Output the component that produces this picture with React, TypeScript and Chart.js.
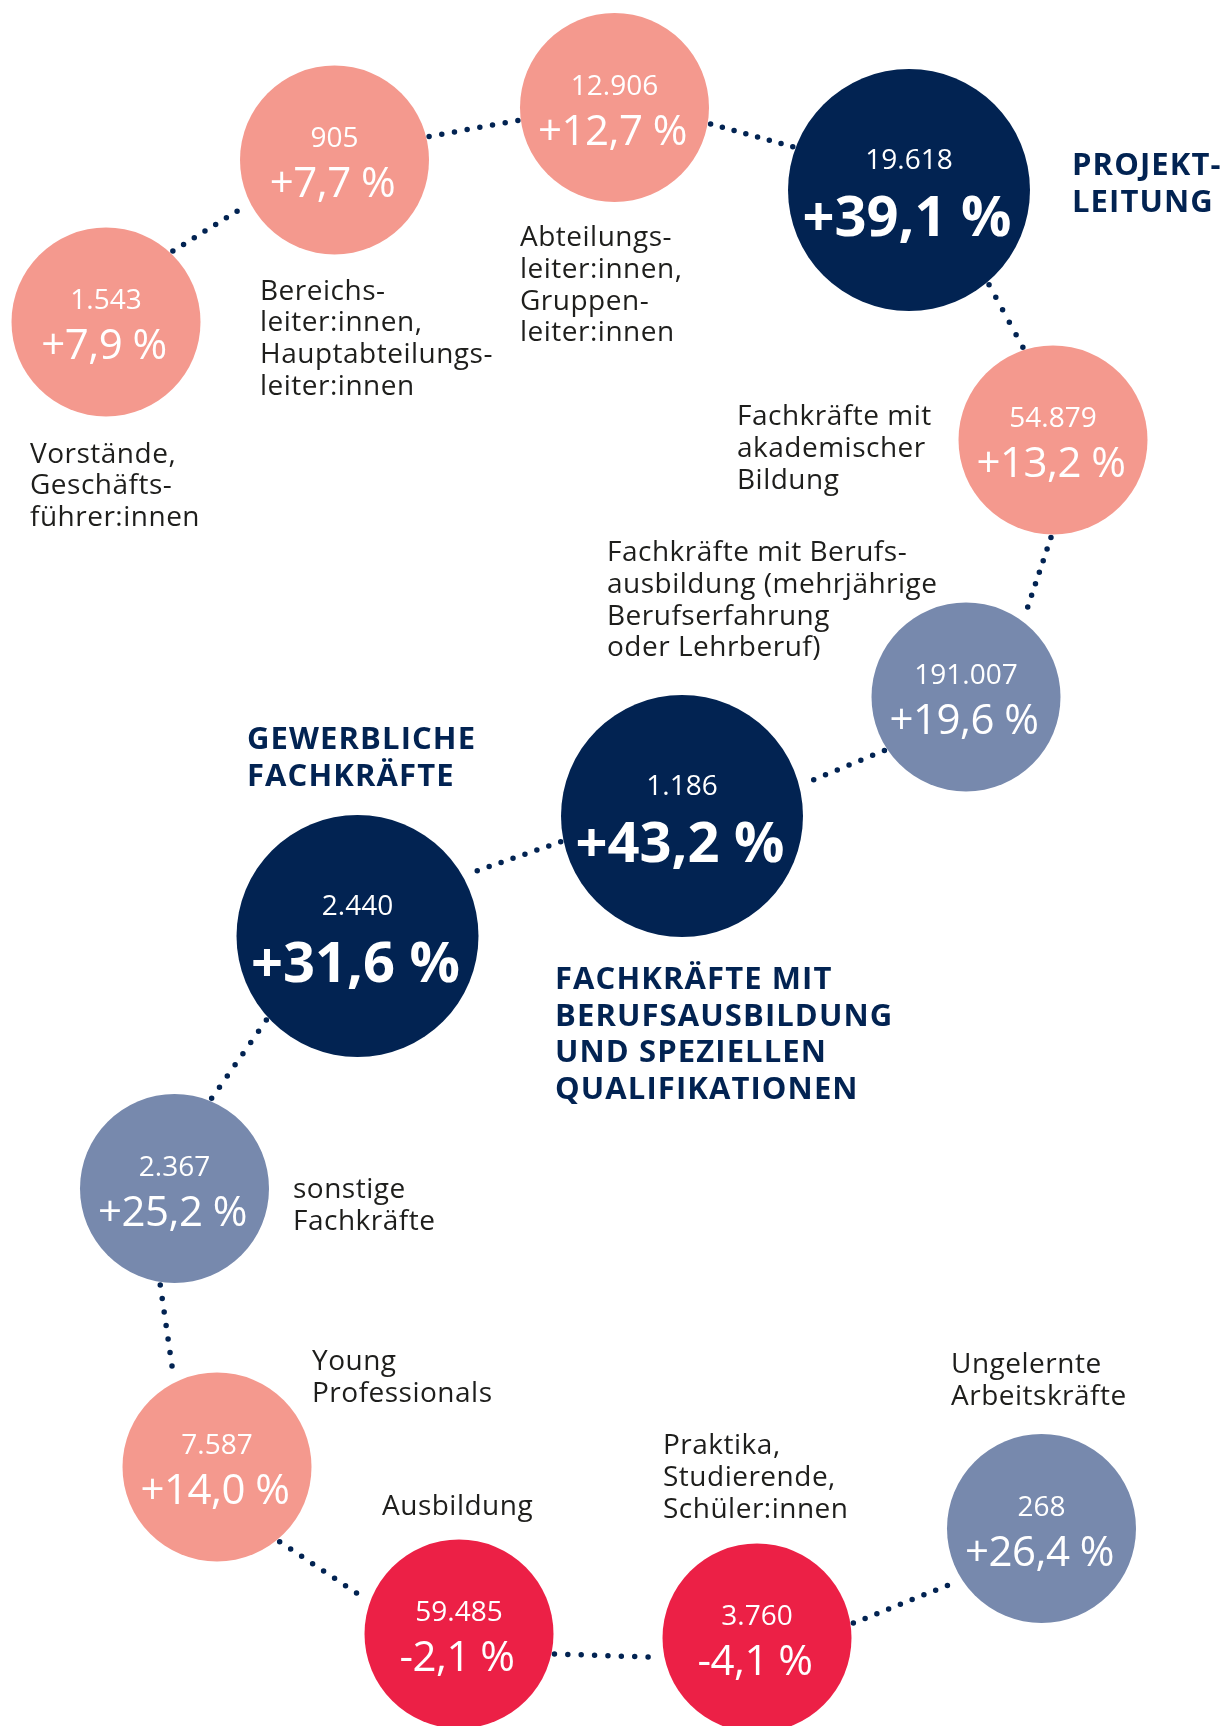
import { useEffect, useRef } from "react";
import { Chart, registerables } from "chart.js";

Chart.register(...registerables);

const W = 1225;
const H = 1726;

// ---------- data ----------
const categories: string[][] = [
  ["Vorstände,", "Geschäfts-", "führer:innen"],
  ["Bereichs-", "leiter:innen,", "Hauptabteilungs-", "leiter:innen"],
  ["Abteilungs-", "leiter:innen,", "Gruppen-", "leiter:innen"],
  ["PROJEKT-", "LEITUNG"],
  ["Fachkräfte mit", "akademischer", "Bildung"],
  ["Fachkräfte mit Berufs-", "ausbildung (mehrjährige", "Berufserfahrung", "oder Lehrberuf)"],
  ["FACHKRÄFTE MIT", "BERUFSAUSBILDUNG", "UND SPEZIELLEN", "QUALIFIKATIONEN"],
  ["GEWERBLICHE", "FACHKRÄFTE"],
  ["sonstige", "Fachkräfte"],
  ["Young", "Professionals"],
  ["Ausbildung"],
  ["Praktika,", "Studierende,", "Schüler:innen"],
  ["Ungelernte", "Arbeitskräfte"],
];

const counts = [1543, 905, 12906, 19618, 54879, 191007, 1186, 2440, 2367, 7587, 59485, 3760, 268];
const changes = [7.9, 7.7, 12.7, 39.1, 13.2, 19.6, 43.2, 31.6, 25.2, 14.0, -2.1, -4.1, 26.4];
const groups = [
  "leitung", "leitung", "leitung", "highlight", "leitung", "fach",
  "highlight", "highlight", "fach", "leitung", "ausbildung", "ausbildung", "fach",
];

// ---------- layout (positions in canvas units) ----------
const posX = [106, 334.5, 614.5, 909, 1053, 966, 682, 357.5, 174.5, 217, 459, 757, 1041.5];
const posY = [322, 160, 107.5, 190, 440, 697, 816, 936, 1188.5, 1467, 1634, 1638, 1528.5];
const labelX = [30, 260, 520, 1072, 737, 607, 555, 247, 293, 312, 382, 663, 951];
const labelY = [462.5, 299.5, 246, 175, 425, 561, 989, 749, 1198, 1370, 1515, 1454, 1373];
const exitAngle = [-46.7, -14, 9.7, 49.8, 91.2, 146.8, 168, 137.3, 98.4, 50, 11.8, -8.8];
const entryAngle = [152.8, 172.3, -159.6, -108, -53.6, -14.7, -29.6, -67.6, -116.2, -159.8, 168.5, 147.6];

// ---------- styles ----------
const groupColor: Record<string, string> = {
  leitung: "#F4998E",
  highlight: "#022352",
  fach: "#7789AD",
  ausbildung: "#EC2046",
};
const SMALL_R = 94.5;
const BIG_R = 121;
const NAVY = "#022352";
const TEXT = "#1E1E1C";
const FONT = '"Open Sans", "Noto Sans", sans-serif';

const isBig = (g: string) => g === "highlight";

function fmtCount(n: number): string {
  const s = String(Math.abs(n));
  let out = "";
  for (let i = 0; i < s.length; i++) {
    if (i > 0 && (s.length - i) % 3 === 0) out += ".";
    out += s[i];
  }
  return out;
}
function fmtChange(v: number): string {
  const sign = v >= 0 ? "+" : "-";
  return sign + Math.abs(v).toFixed(1).replace(".", ",") + " %";
}

const textPlugin = {
  id: "bubbleText",
  afterDatasetsDraw(chart: any) {
    const ctx = chart.ctx as CanvasRenderingContext2D;
    const meta = chart.getDatasetMeta(0);
    const xs = chart.scales.x;
    const ys = chart.scales.y;
    ctx.save();
    // values inside circles
    meta.data.forEach((el: any, i: number) => {
      const big = isBig(groups[i]);
      ctx.fillStyle = "#FFFFFF";
      ctx.textAlign = "center";
      ctx.textBaseline = "alphabetic";
      (ctx as any).letterSpacing = "0px";
      ctx.font = `400 28px ${FONT}`;
      ctx.fillText(fmtCount(counts[i]), el.x, el.y + (big ? -21.5 : -13));
      ctx.font = big ? `700 56px ${FONT}` : `400 42px ${FONT}`;
      (ctx as any).letterSpacing = big ? "0px" : "-0.5px";
      ctx.fillText(fmtChange(changes[i]), el.x - 2, el.y + (big ? 45.5 : 37));
    });
    // category labels
    categories.forEach((lines, i) => {
      const heading = isBig(groups[i]);
      const x = xs.getPixelForValue(labelX[i]);
      const y0 = ys.getPixelForValue(labelY[i]);
      ctx.textAlign = "left";
      ctx.textBaseline = "alphabetic";
      ctx.fillStyle = heading ? NAVY : TEXT;
      ctx.font = heading ? `700 31px ${FONT}` : `400 28px ${FONT}`;
      (ctx as any).letterSpacing = heading ? "1.1px" : "0.5px";
      const lh = heading ? 36.5 : 31.8;
      lines.forEach((t, k) => ctx.fillText(t, x, y0 + k * lh));
    });
    (ctx as any).letterSpacing = "0px";
    ctx.restore();
  },
};

export default function App() {
  const ref = useRef<HTMLCanvasElement | null>(null);

  useEffect(() => {
    if (!ref.current) return;
    const radii = groups.map((g) => (isBig(g) ? BIG_R : SMALL_R));

    const linkSets = exitAngle.map((a, i) => {
      const j = i + 1;
      const ra = radii[i] + 3;
      const rb = radii[j] + 3;
      const aa = (a * Math.PI) / 180;
      const bb = (entryAngle[i] * Math.PI) / 180;
      const p1 = { x: posX[i] + ra * Math.cos(aa), y: posY[i] + ra * Math.sin(aa) };
      const p2 = { x: posX[j] + rb * Math.cos(bb), y: posY[j] + rb * Math.sin(bb) };
      const len = Math.hypot(p2.x - p1.x, p2.y - p1.y);
      const step = len / Math.max(1, Math.round(len / 13));
      return {
        type: "line" as const,
        data: [p1, p2],
        borderColor: NAVY,
        borderWidth: 5.5,
        borderDash: [0, step],
        borderCapStyle: "round" as const,
        pointRadius: 0,
        fill: false,
        tension: 0,
        order: 1,
      };
    });

    const chart = new Chart(ref.current, {
      type: "bubble",
      data: {
        datasets: [
          {
            type: "bubble",
            data: posX.map((x, i) => ({ x, y: posY[i], r: radii[i] })),
            backgroundColor: groups.map((g) => groupColor[g]),
            borderWidth: 0,
            hoverRadius: 0,
            order: 0,
          } as any,
          ...linkSets,
        ],
      },
      options: {
        animation: false,
        responsive: true,
        maintainAspectRatio: false,
        events: [],
        layout: { padding: 0, autoPadding: false },
        scales: {
          x: { type: "linear", min: 0, max: W, display: false },
          y: { type: "linear", min: 0, max: H, reverse: true, display: false },
        },
        plugins: {
          legend: { display: false },
          tooltip: { enabled: false },
        },
      },
      plugins: [textPlugin],
    });
    return () => chart.destroy();
  }, []);

  return (
    <div
      style={{
        position: "absolute",
        left: 0,
        top: 0,
        width: W,
        height: H,
        background: "#FFFFFF",
      }}
    >
      <canvas ref={ref} />
    </div>
  );
}
